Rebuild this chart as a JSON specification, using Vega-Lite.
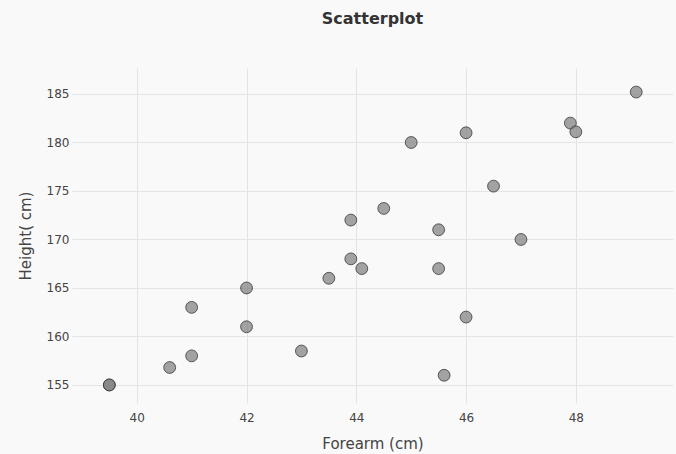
{
  "$schema": "https://vega.github.io/schema/vega-lite/v6.json",
  "autosize": {"type": "none"},
  "width": 601,
  "height": 335,
  "padding": {"left": 72, "top": 68, "right": 3, "bottom": 51},
  "background": "#f9f9f9",
  "title": {
    "text": "Scatterplot",
    "font": "DejaVu Sans",
    "fontSize": 16,
    "fontWeight": "bold",
    "color": "#333333",
    "anchor": "middle",
    "baseline": "middle",
    "offset": 33
  },
  "config": {
    "view": {"stroke": null, "fill": "#f9f9f9"},
    "axis": {
      "domain": false,
      "ticks": false,
      "gridColor": "#e4e4e4",
      "gridWidth": 1,
      "labelFont": "DejaVu Sans",
      "labelFontSize": 12,
      "labelColor": "#444444",
      "titleFont": "DejaVu Sans",
      "titleFontSize": 15,
      "titleFontWeight": "normal",
      "titleColor": "#444444"
    }
  },
  "data": {
    "values": [
      {"forearm": 49.1, "height": 185.2},
      {"forearm": 47.9, "height": 182.0},
      {"forearm": 48.0, "height": 181.1},
      {"forearm": 46.0, "height": 181.0},
      {"forearm": 45.0, "height": 180.0},
      {"forearm": 46.5, "height": 175.5},
      {"forearm": 44.5, "height": 173.2},
      {"forearm": 43.9, "height": 172.0},
      {"forearm": 45.5, "height": 171.0},
      {"forearm": 47.0, "height": 170.0},
      {"forearm": 43.9, "height": 168.0},
      {"forearm": 44.1, "height": 167.0},
      {"forearm": 45.5, "height": 167.0},
      {"forearm": 43.5, "height": 166.0},
      {"forearm": 42.0, "height": 165.0},
      {"forearm": 41.0, "height": 163.0},
      {"forearm": 46.0, "height": 162.0},
      {"forearm": 42.0, "height": 161.0},
      {"forearm": 43.0, "height": 158.5},
      {"forearm": 41.0, "height": 158.0},
      {"forearm": 40.6, "height": 156.8},
      {"forearm": 45.6, "height": 156.0},
      {"forearm": 39.5, "height": 155.0},
      {"forearm": 39.5, "height": 155.0}
    ]
  },
  "mark": {
    "type": "point",
    "shape": "circle",
    "filled": true,
    "size": 140,
    "color": "#808080",
    "fillOpacity": 0.72,
    "stroke": "#3a3a3a",
    "strokeWidth": 1,
    "strokeOpacity": 0.8
  },
  "encoding": {
    "x": {
      "field": "forearm",
      "type": "quantitative",
      "title": "Forearm (cm)",
      "scale": {"domain": [38.82, 49.77], "nice": false, "zero": false},
      "axis": {"values": [40, 42, 44, 46, 48], "labelPadding": 9, "titlePadding": 13}
    },
    "y": {
      "field": "height",
      "type": "quantitative",
      "title": "Height( cm)",
      "scale": {"domain": [153.14, 187.68], "nice": false, "zero": false},
      "axis": {"values": [155, 160, 165, 170, 175, 180, 185], "labelPadding": 3, "titlePadding": 13}
    }
  }
}
